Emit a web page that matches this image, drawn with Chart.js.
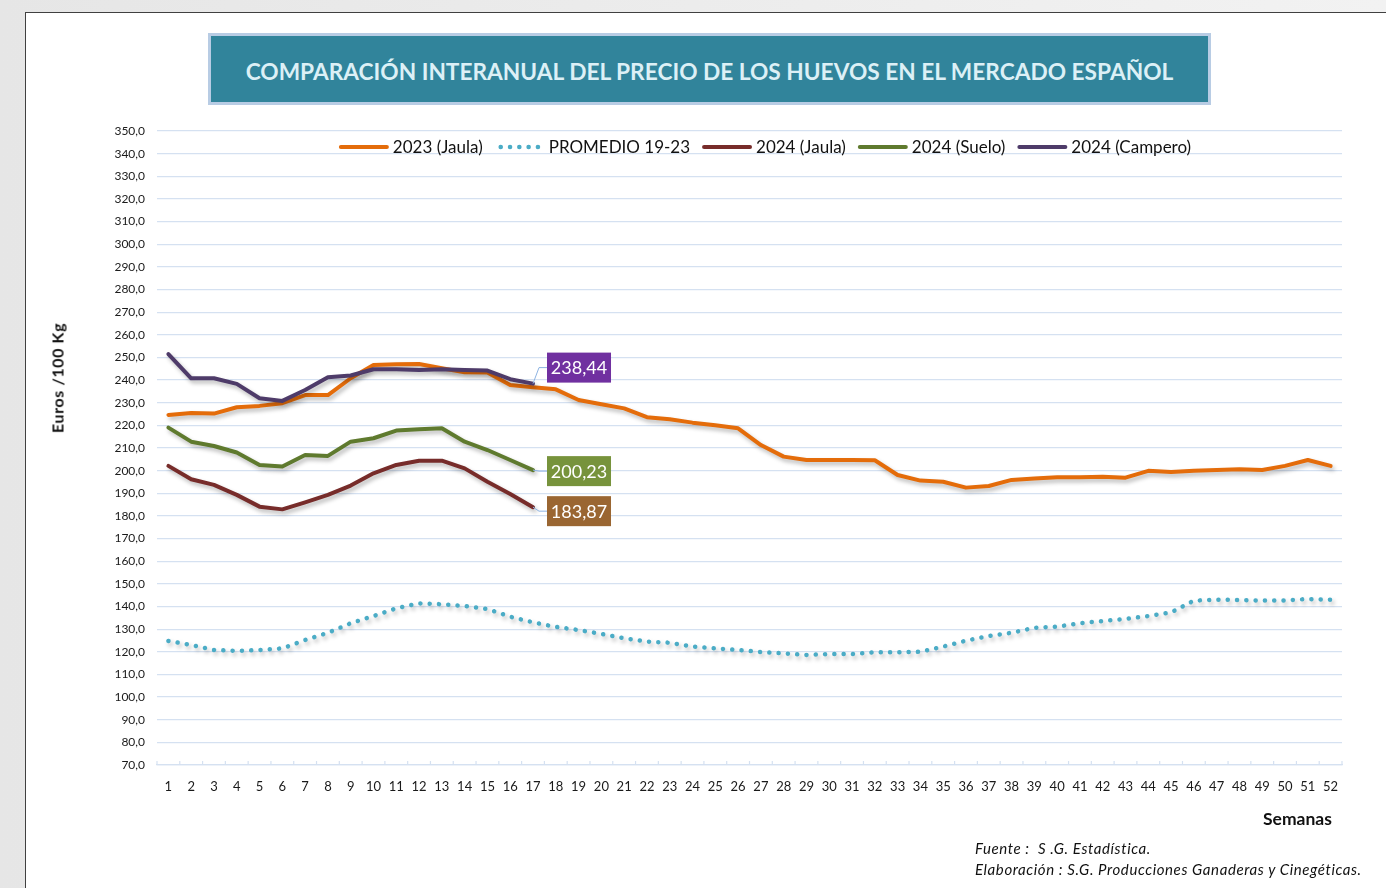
<!DOCTYPE html>
<html lang="es">
<head>
  <meta charset="UTF-8">
  <title>Comparación interanual del precio de los huevos</title>
  <script src="https://cdn.jsdelivr.net/npm/chart.js"></script>
  <style>
    html, body { margin: 0; padding: 0; }
    body { width: 1386px; height: 888px; overflow: hidden; position: relative;
           background: linear-gradient(90deg, #e6e6e6, #f2f2f2); font-family: Lato, "Open Sans", sans-serif; }
    .marco { position: absolute; left: 25px; top: 12px; width: 1400px; height: 900px;
             background: #fff; border: 1.5px solid #404040; }
    .titulo { position: absolute; left: 208px; top: 33px; width: 997px; height: 61px; padding-top: 5px;
              background: #31849b; border: 3px solid #b8cce4; color: #dcf0f6;
              font: bold 22.7px Lato, sans-serif; text-align: center; line-height: 61px; white-space: nowrap; }
    #grafico { position: absolute; left: 0; top: 0; }
    .ejey { position: absolute; left: 57px; top: 378px; transform: translate(-50%, -50%) rotate(-90deg);
            font: bold 16px Lato, sans-serif; letter-spacing: 0.6px; white-space: nowrap; color: #111; }
    .semanas { position: absolute; left: 1263px; top: 808px; font: bold 17.5px Lato, sans-serif; color: #111; }
    .fuente { position: absolute; left: 975px; top: 838px; font: italic 15px Lato, sans-serif; letter-spacing: 0.6px;
              color: #111; line-height: 21px; white-space: pre; }
  </style>
</head>
<body>
  <div class="marco"></div>
  <div class="titulo">COMPARACIÓN INTERANUAL DEL PRECIO DE LOS HUEVOS EN EL MERCADO ESPAÑOL</div>
  <canvas id="grafico" width="1386" height="888"></canvas>
  <div class="ejey">Euros /100 Kg</div>
  <div class="semanas">Semanas</div>
  <div class="fuente">Fuente :  S .G. Estadística.
Elaboración : S.G. Producciones Ganaderas y Cinegéticas.</div>

  <script>
    const semanas = Array.from({ length: 52 }, (_, i) => String(i + 1));

    const jaula2023 = [224.6, 225.5, 225.2, 228.0, 228.6, 229.8, 233.4, 233.4, 240.8, 246.7,
      247.0, 247.1, 245.2, 243.4, 243.3, 237.8, 236.8, 235.9, 231.2, 229.3,
      227.5, 223.6, 222.7, 221.2, 220.0, 218.7, 211.3, 206.2, 204.7, 204.7,
      204.7, 204.6, 198.1, 195.6, 195.1, 192.5, 193.2, 195.9, 196.5, 197.1,
      197.1, 197.3, 196.9, 199.9, 199.4, 200.0, 200.3, 200.6, 200.3, 202.1,
      204.7, 202.1];

    const promedio1923 = [124.8, 123.0, 120.8, 120.4, 120.8, 121.5, 125.2, 128.4, 132.6, 135.8,
      139.2, 141.4, 141.0, 140.2, 138.9, 135.5, 133.0, 131.0, 129.6, 127.9,
      126.0, 124.5, 124.0, 122.3, 121.5, 120.8, 119.9, 119.3, 118.6, 119.0,
      119.0, 119.8, 119.8, 120.0, 122.3, 124.9, 127.0, 128.4, 130.6, 131.1,
      132.6, 133.6, 134.5, 135.8, 137.4, 142.6, 143.0, 142.9, 142.6, 142.7,
      143.3, 143.0];

    const jaula2024 = [202.1, 196.2, 193.7, 189.3, 184.1, 182.9, 186.0, 189.3, 193.4, 198.8,
      202.5, 204.4, 204.4, 201.0, 195.1, 189.7, 183.87];

    const suelo2024 = [219.0, 212.8, 210.9, 208.0, 202.5, 201.8, 206.9, 206.5, 212.8, 214.3,
      217.7, 218.3, 218.7, 212.8, 209.1, 204.7, 200.23];

    const campero2024 = [251.5, 240.8, 240.8, 238.3, 232.0, 230.8, 235.6, 241.2, 242.0, 244.8,
      244.8, 244.5, 244.8, 244.5, 244.2, 240.4, 238.44];

    const rejilla = '#d5e1f1';

    // sombra bajo las líneas, como en el original
    const sombra = {
      id: 'sombra',
      beforeDatasetsDraw(chart) {
        const c = chart.ctx;
        c.save();
        c.shadowColor = 'rgba(0,0,0,0.28)';
        c.shadowBlur = 4;
        c.shadowOffsetX = 2;
        c.shadowOffsetY = 3;
      },
      afterDatasetsDraw(chart) { chart.ctx.restore(); }
    };

    // marcas pequeñas hacia arriba en el eje de categorías
    const marcasX = {
      id: 'marcasX',
      afterDraw(chart) {
        const x = chart.scales.x, c = chart.ctx, b = chart.chartArea.bottom;
        c.save();
        c.strokeStyle = rejilla;
        c.lineWidth = 1.2;
        for (let i = 0; i <= semanas.length; i++) {
          const px = x.getPixelForValue(i - 0.5);
          c.beginPath(); c.moveTo(px, b); c.lineTo(px, b - 4); c.stroke();
        }
        c.restore();
      }
    };

    // leyenda dentro del área del gráfico
    const leyenda = {
      id: 'leyenda',
      afterDraw(chart) {
        const c = chart.ctx, y = 147;
        c.save();
        c.font = '17px Lato, sans-serif';
        c.textBaseline = 'middle';
        const items = chart.data.datasets.map(d => ({ d, w: 50 + 4 + c.measureText(d.label).width }));
        const total = items.reduce((s, it) => s + it.w, 0) + 12 * (items.length - 1);
        let x = 765 - total / 2;
        items.forEach(({ d, w }) => {
          c.strokeStyle = d.borderColor;
          c.lineWidth = d.borderWidth;
          c.lineCap = 'round';
          c.setLineDash(d.borderDash || []);
          c.beginPath();
          if (d.borderDash) { c.moveTo(x + 6, y); c.lineTo(x + 46, y); }
          else { c.moveTo(x + 2, y); c.lineTo(x + 48, y); }
          c.stroke();
          c.setLineDash([]);
          c.fillStyle = '#111';
          c.fillText(d.label, x + 54, y + 1);
          x += w + 12;
        });
        c.restore();
      }
    };

    // etiquetas del último valor de 2024
    const etiquetas = {
      id: 'etiquetas',
      afterDraw(chart) {
        const c = chart.ctx;
        c.save();
        c.font = '18px Lato, sans-serif';
        c.textAlign = 'center';
        c.textBaseline = 'middle';
        chart.data.datasets.forEach((d, i) => {
          if (!d.etiqueta) return;
          const meta = chart.getDatasetMeta(i);
          const p = meta.data[meta.data.length - 1];
          const cy = p.y + d.etiqueta.dy, bx = p.x + 14;
          c.strokeStyle = '#8db3e2';
          c.lineWidth = 1;
          c.beginPath(); c.moveTo(p.x, p.y); c.lineTo(p.x + 6, cy); c.lineTo(bx, cy); c.stroke();
          c.fillStyle = d.etiqueta.fondo;
          c.fillRect(bx, cy - 15, 64, 30);
          c.fillStyle = '#fff';
          const v = d.data[d.data.length - 1];
          c.fillText(v.toFixed(2).replace('.', ','), bx + 32, cy + 1);
        });
        c.restore();
      }
    };

    new Chart(document.getElementById('grafico'), {
      type: 'line',
      data: {
        labels: semanas,
        datasets: [
          { label: '2023 (Jaula)', data: jaula2023, borderColor: '#e46c0a', borderWidth: 4, order: 5 },
          { label: 'PROMEDIO 19-23', data: promedio1923, borderColor: '#4bacc6', borderWidth: 4.5,
            borderDash: [0.1, 9.2], borderCapStyle: 'round', order: 4 },
          { label: '2024 (Jaula)', data: jaula2024, borderColor: '#772c2a', borderWidth: 4, order: 3,
            etiqueta: { fondo: '#9a6632', dy: 4 } },
          { label: '2024 (Suelo)', data: suelo2024, borderColor: '#5f7a2e', borderWidth: 4, order: 2,
            etiqueta: { fondo: '#77933c', dy: 1 } },
          { label: '2024 (Campero)', data: campero2024, borderColor: '#4e3b69', borderWidth: 4, order: 1,
            etiqueta: { fondo: '#7030a0', dy: -16 } }
        ]
      },
      options: {
        responsive: false,
        animation: false,
        layout: { padding: { left: 0, top: 131, right: 44, bottom: 93 } },
        elements: { point: { radius: 0 }, line: { tension: 0, borderJoinStyle: 'round', borderCapStyle: 'round' } },
        plugins: { legend: { display: false }, tooltip: { enabled: false } },
        scales: {
          x: {
            offset: true,
            grid: { display: false },
            border: { display: true, color: rejilla, width: 1.2 },
            ticks: { color: '#1a1a1a', font: { family: 'Lato', size: 13 }, padding: 6, maxRotation: 0, autoSkip: false },
            afterFit(s) { s.height = 30; }
          },
          y: {
            min: 70, max: 350,
            grid: { color: rejilla, lineWidth: 1.2, drawTicks: false },
            border: { display: false },
            ticks: { stepSize: 10, padding: 12, color: '#1a1a1a', font: { family: 'Lato', size: 12 },
                     callback: v => v.toFixed(1).replace('.', ',') },
            afterFit(s) { s.width = 157; }
          }
        }
      },
      plugins: [sombra, marcasX, leyenda, etiquetas]
    });
  </script>
</body>
</html>
